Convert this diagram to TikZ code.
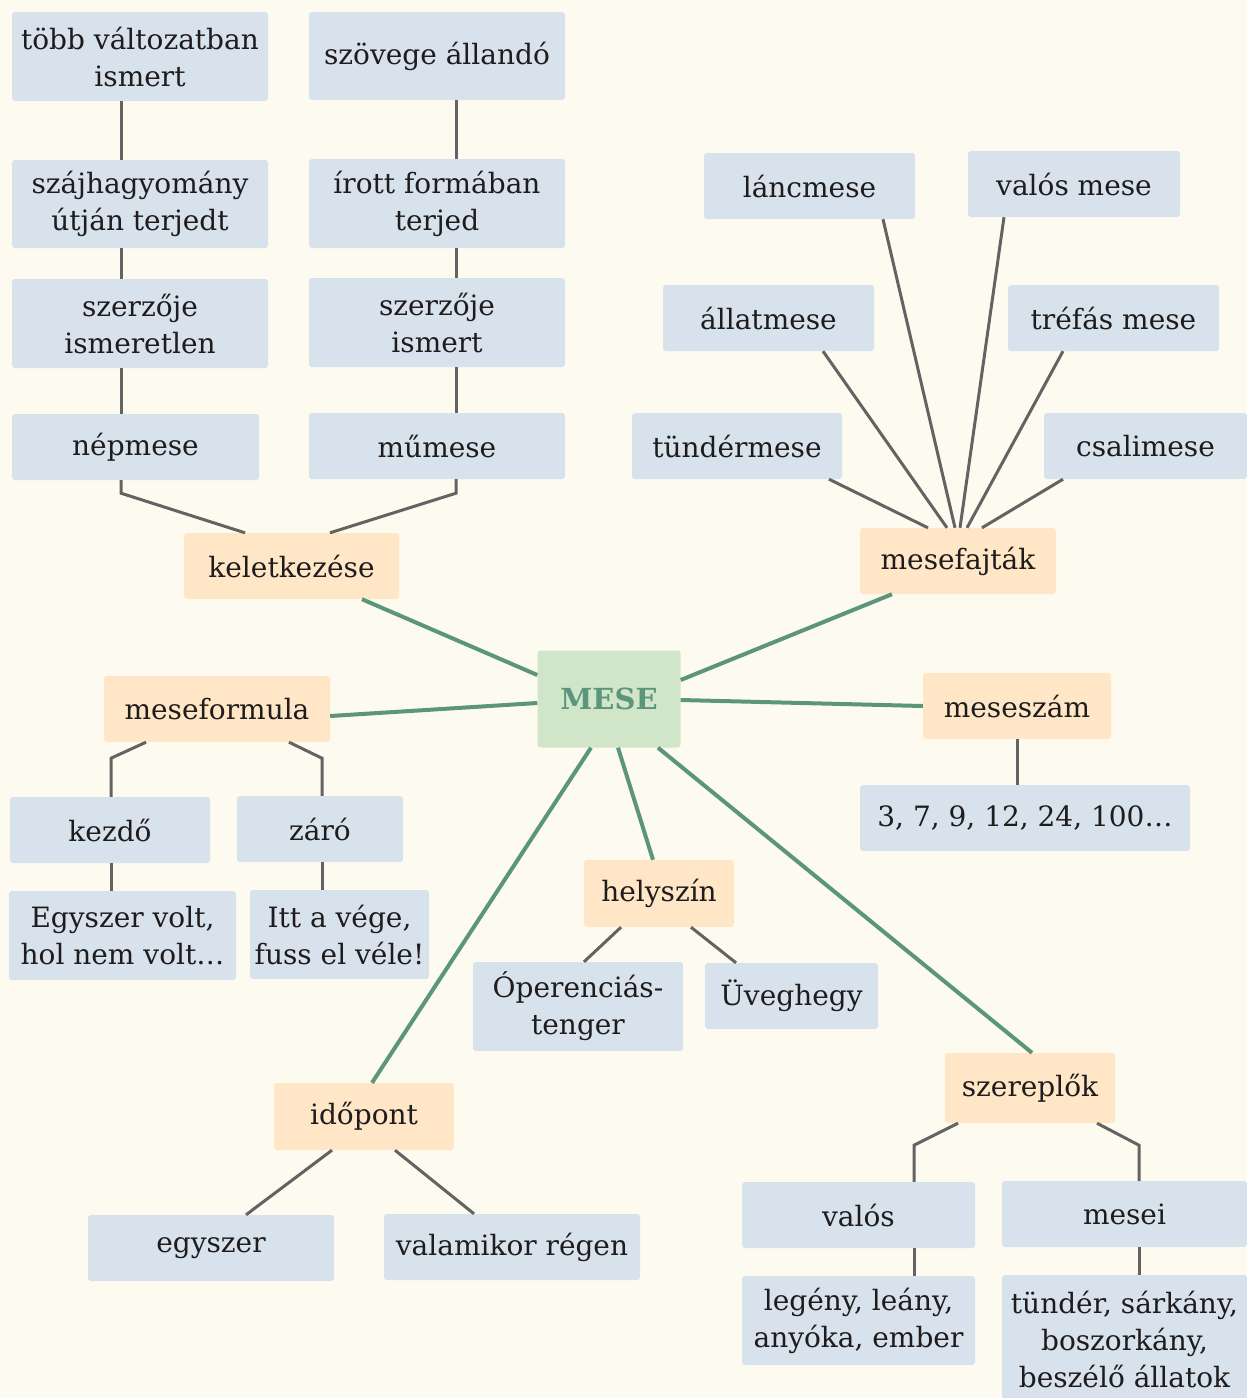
\documentclass[tikz,border=0pt]{standalone}
\usepackage{fontspec}
\setmainfont{DejaVu Serif}
\definecolor{bgc}{HTML}{FDFBF0}
\definecolor{bluec}{HTML}{D8E2EC}
\definecolor{orangec}{HTML}{FFE6C6}
\definecolor{greenf}{HTML}{D1E5C9}
\definecolor{greenl}{HTML}{5B957A}
\definecolor{grayl}{HTML}{636363}
\definecolor{txt}{HTML}{1E1C1D}
\tikzset{
  boxbase/.style={rectangle, rounded corners=3pt, inner sep=0pt, align=center, text=txt,
    font=\fontsize{28}{37}\selectfont},
  bbox/.style={boxbase, fill=bluec},
  obox/.style={boxbase, fill=orangec},
  gbox/.style={boxbase, fill=greenf, text=greenl, font=\fontsize{29}{32}\selectfont\bfseries},
  gl/.style={draw=grayl, line width=3pt},
  grl/.style={draw=greenl, line width=4pt},
}
\begin{document}
\begin{tikzpicture}[x=1pt,y=-1pt]
\useasboundingbox[fill=bgc] (0,0) rectangle (1247,1398);
% keletkezese branch
\node[bbox, minimum width=256, minimum height=89] (L1) at (140,56.5) {több változatban\\ismert};
\node[bbox, minimum width=256, minimum height=88] (L2) at (140,204) {szájhagyomány\\útján terjedt};
\node[bbox, minimum width=256, minimum height=89] (L3) at (140,323.5) {szerzője\\ismeretlen};
\node[bbox, minimum width=247, minimum height=66] (L4) at (135.5,447) {népmese};
\node[bbox, minimum width=256, minimum height=88] (R1) at (437,56) {szövege állandó};
\node[bbox, minimum width=256, minimum height=89] (R2) at (437,203.5) {írott formában\\terjed};
\node[bbox, minimum width=256, minimum height=89] (R3) at (437,322.5) {szerzője\\ismert};
\node[bbox, minimum width=256, minimum height=66] (R4) at (437,446) {műmese};
\node[obox, minimum width=215, minimum height=66] (kelet) at (291.5,566) {keletkezése};
% mesefajtak
\node[obox, minimum width=196, minimum height=66] (fajtak) at (958,561) {mesefajták};
\node[bbox, minimum width=211, minimum height=66] (lanc) at (809.5,186) {láncmese};
\node[bbox, minimum width=212, minimum height=66] (valosm) at (1074,184) {valós mese};
\node[bbox, minimum width=211, minimum height=66] (allat) at (768.5,318) {állatmese};
\node[bbox, minimum width=211, minimum height=66] (trefas) at (1113.5,318) {tréfás mese};
\node[bbox, minimum width=210, minimum height=66] (tunder) at (737,446) {tündérmese};
\node[bbox, minimum width=203, minimum height=66] (csali) at (1145.5,446) {csalimese};
% center
\node[gbox, minimum width=143, minimum height=97] (mese) at (609,699) {MESE};
% meseformula
\node[obox, minimum width=226, minimum height=66] (formula) at (217,709) {meseformula};
\node[bbox, minimum width=200, minimum height=66] (kezdo) at (110,830) {kezdő};
\node[bbox, minimum width=166, minimum height=66] (zaro) at (320,829) {záró};
\node[bbox, minimum width=227, minimum height=89] (egyv) at (122.5,935.5) {Egyszer volt,\\hol nem volt…};
\node[bbox, minimum width=179, minimum height=89] (itt) at (339.5,934.5) {Itt a vége,\\fuss el véle!};
% meseszam
\node[obox, minimum width=188, minimum height=66] (szam) at (1017,706) {meseszám};
\node[bbox, minimum width=330, minimum height=66] (szamok) at (1025,818) {3, 7, 9, 12, 24, 100…};
% helyszin
\node[obox, minimum width=150, minimum height=67] (hely) at (659,893.5) {helyszín};
\node[bbox, minimum width=210, minimum height=89] (oper) at (578,1006.5) {Óperenciás-\\tenger};
\node[bbox, minimum width=173, minimum height=66] (uveg) at (791.5,996) {Üveghegy};
% idopont
\node[obox, minimum width=180, minimum height=67] (ido) at (364,1116.5) {időpont};
\node[bbox, minimum width=246, minimum height=66] (egyszer) at (211,1248) {egyszer};
\node[bbox, minimum width=256, minimum height=66] (valamikor) at (512,1247) {valamikor régen};
% szereplok
\node[obox, minimum width=170, minimum height=70] (szer) at (1030,1088) {szereplők};
\node[bbox, minimum width=233, minimum height=66] (valos) at (858.5,1215) {valós};
\node[bbox, minimum width=245, minimum height=66] (mesei) at (1124.5,1214) {mesei};
\node[bbox, minimum width=233, minimum height=89] (legeny) at (858.5,1320.5) {legény, leány,\\anyóka, ember};
\node[bbox, minimum width=245, minimum height=128] (tunder2) at (1124.5,1339) {tündér, sárkány,\\boszorkány,\\beszélő állatok};
% gray connectors: keletkezese
\draw[gl] ([xshift=-19pt]L1.south) -- ([xshift=-19pt]L2.north);
\draw[gl] ([xshift=-19pt]L2.south) -- ([xshift=-19pt]L3.north);
\draw[gl] ([xshift=-19pt]L3.south) -- ([xshift=-14.5pt]L4.north);
\draw[gl] ([xshift=19pt]R1.south) -- ([xshift=19pt]R2.north);
\draw[gl] ([xshift=19pt]R2.south) -- ([xshift=19pt]R3.north);
\draw[gl] ([xshift=19pt]R3.south) -- ([xshift=19pt]R4.north);
\draw[gl] ([xshift=-14.5pt]L4.south) -- ++(0,13) -- ([xshift=-46.5pt]kelet.north);
\draw[gl] ([xshift=19pt]R4.south) -- ++(0,14) -- ([xshift=38.5pt]kelet.north);
% mesefajtak
\draw[gl] ([xshift=92pt]tunder.south) -- ([xshift=-30pt]fajtak.north);
\draw[gl] ([xshift=54.5pt]allat.south) -- ([xshift=-11pt]fajtak.north);
\draw[gl] ([xshift=73.5pt]lanc.south) -- ([xshift=-3pt]fajtak.north);
\draw[gl] ([xshift=-70pt]valosm.south) -- ([xshift=2pt]fajtak.north);
\draw[gl] ([xshift=-50.5pt]trefas.south) -- ([xshift=9pt]fajtak.north);
\draw[gl] ([xshift=-82.5pt]csali.south) -- ([xshift=24pt]fajtak.north);
% meseformula
\draw[gl] ([xshift=-71pt]formula.south) -- ++(-35,16) -- ([xshift=1pt]kezdo.north);
\draw[gl] ([xshift=72pt]formula.south) -- ++(33,16) -- ([xshift=2pt]zaro.north);
\draw[gl] ([xshift=1pt]kezdo.south) -- ([xshift=1pt]kezdo.south |- egyv.north);
\draw[gl] ([xshift=2pt]zaro.south) -- ([xshift=2pt]zaro.south |- itt.north);
% meseszam
\draw[gl] (szam.south) -- (szam.south |- szamok.north);
% helyszin
\draw[gl] ([xshift=-38pt]hely.south) -- ([xshift=6pt]oper.north);
\draw[gl] ([xshift=32pt]hely.south) -- ([xshift=-55.5pt]uveg.north);
% idopont
\draw[gl] ([xshift=-32pt]ido.south) -- ([xshift=35pt]egyszer.north);
\draw[gl] ([xshift=31pt]ido.south) -- ([xshift=-38pt]valamikor.north);
% szereplok
\draw[gl] ([xshift=-72pt]szer.south) -- ++(-44,22) -- ([xshift=55.5pt]valos.north);
\draw[gl] ([xshift=67pt]szer.south) -- ++(42,22) -- ([xshift=14.5pt]mesei.north);
\draw[gl] ([xshift=55.5pt]valos.south) -- ([xshift=55.5pt]valos.south |- legeny.north);
\draw[gl] ([xshift=14.5pt]mesei.south) -- ([xshift=14.5pt]mesei.south |- tunder2.north);
% green connectors
\draw[grl] ([yshift=24pt]mese.west) -- ([xshift=70.5pt]kelet.south);
\draw[grl] ([yshift=19pt]mese.east) -- ([xshift=-66pt]fajtak.south);
\draw[grl] ([yshift=-4pt]mese.west) -- ([yshift=-7pt]formula.east);
\draw[grl] ([yshift=-1pt]mese.east) -- (szam.west);
\draw[grl] ([xshift=-18pt]mese.south) -- ([xshift=8pt]ido.north);
\draw[grl] ([xshift=9pt]mese.south) -- ([xshift=-6pt]hely.north);
\draw[grl] ([xshift=49pt]mese.south) -- ([xshift=2pt]szer.north);
\end{tikzpicture}
\end{document}
